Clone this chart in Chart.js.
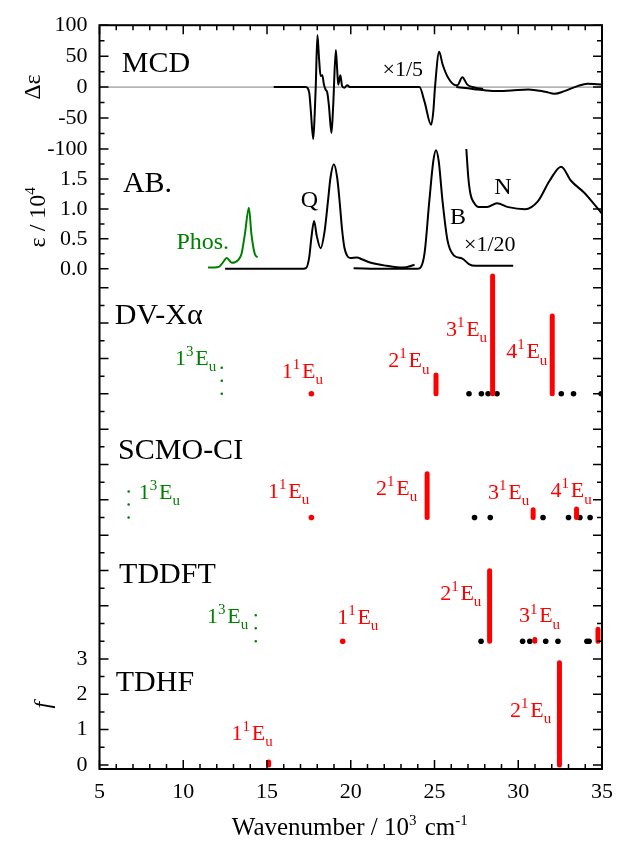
<!DOCTYPE html>
<html>
<head>
<meta charset="utf-8">
<script src="https://cdn.jsdelivr.net/npm/chart.js@4.4.1/dist/chart.umd.min.js"></script>
<style>
  html, body { margin: 0; padding: 0; background: #fff; }
</style>
</head>
<body>
<canvas id="chart" width="623" height="844"></canvas>
<script>
// wavenumbers in 10^3 cm-1

// MCD (delta epsilon), main trace and the x1/5 trace
const mcdX = [15.4, 17.32, 17.52, 17.61, 17.76, 17.85, 17.91, 18.01, 18.11, 18.20, 18.30, 18.40, 18.50, 18.60, 18.70, 18.85, 18.95, 19.11, 19.19, 19.25, 19.38, 19.48, 19.62, 19.78, 19.97, 24.1, 24.4, 24.8, 24.93, 25.03, 25.28, 25.48, 25.86, 26.27, 26.37, 26.66, 26.96, 27.45, 27.9];
const mcdY = [0, 0, -9, -36, -84, -42, 0, 84, 45, 18, 19, 4, -4, -9, -31, -74, -31, 60, 28, 4, 19, 2, -1, 3, 0, 0, -23, -61, -39, 0, 57, 37, 13, 3, 3, 16, 4, -1, -3];
const mcd5X = [26.3, 27.0, 27.6, 28.6, 29.6, 30.6, 31.6, 32.17, 32.76, 33.54, 34.13, 34.92, 35];
const mcd5Y = [0, -2, -4, -6.5, -5.3, -3.7, -7.5, -10.8, -6.5, 1.6, 5.4, 4.3, 4];

// absorption (epsilon / 10^4)
const absQX = [12.5, 17.0, 17.32, 17.52, 17.65, 17.81, 17.97, 18.20, 18.44, 18.64, 18.79, 18.99, 19.19, 19.35, 19.48, 19.62, 19.78, 19.97, 20.37, 20.66, 21.15, 22.14, 23.12, 23.81];
const absQY = [0, 0, 0.01, 0.19, 0.52, 0.80, 0.55, 0.345, 0.63, 1.13, 1.52, 1.745, 1.52, 1.08, 0.66, 0.355, 0.22, 0.18, 0.19, 0.16, 0.105, 0.05, 0.02, 0.067];
const absBX = [20.17, 22.0, 24.0, 24.4, 24.69, 24.93, 25.09, 25.25, 25.48, 25.78, 26.17, 26.66, 27.05, 27.45, 29.7];
const absBY = [0.01, 0.0, 0.0, 0.25, 1.13, 1.8, 1.98, 1.8, 1.13, 0.47, 0.22, 0.17, 0.08, 0.05, 0.05];
const absNX = [26.90, 27.02, 27.15, 27.35, 27.64, 28.14, 28.73, 29.41, 30.40, 31.18, 31.87, 32.56, 33.15, 33.94, 34.53, 35.0];
const absNY = [2.0, 1.52, 1.245, 1.105, 1.03, 1.03, 1.095, 1.03, 0.995, 1.13, 1.47, 1.705, 1.47, 1.27, 1.08, 0.92];
const phosX = [11.48, 12.1, 12.35, 12.6, 12.9, 13.29, 13.48, 13.68, 13.92, 14.07, 14.27, 14.43];
const phosY = [0.02, 0.03, 0.1, 0.18, 0.10, 0.15, 0.25, 0.58, 1.02, 0.58, 0.25, 0.19];

// calculated transitions: singlet Eu (x, f), other states (x), triplet Eu (x)
const dvSingX = [17.65, 25.09, 28.47, 32.03];
const dvSingF = [0, 0.53, 3.33, 2.2];
const dvOtherX = [27.06, 27.8, 28.2, 28.73, 32.57, 33.3, 34.95];
const dvTripX = [12.3];

const scmoSingX = [17.65, 24.56, 30.89, 33.48];
const scmoSingF = [0, 1.24, 0.22, 0.24];
const scmoOtherX = [27.39, 28.33, 31.48, 33.0, 33.68, 34.29];
const scmoTripX = [6.74];

const tddftSingX = [19.52, 28.29, 30.99, 34.76];
const tddftSingF = [0, 1.99, 0.05, 0.34];
const tddftOtherX = [27.78, 30.26, 30.69, 31.64, 32.37, 34.1, 34.23];
const tddftTripX = [14.33];

const tdhfSingX = [15.1, 32.46];
const tdhfSingF = [0.08, 2.89];

// text: [text, x, y, axis, colour, size]
const notes = [
    ['MCD', 6.33, 24.7, 'yMCD', 'k', 30],
    ['×1/5', 21.9, 17.7, 'yMCD', 'k', 22],
    ['AB.', 6.40, 1.29, 'yAB', 'k', 30],
    ['Phos.', 9.59, 0.33, 'yAB', 'g', 24],
    ['Q', 17.02, 1.03, 'yAB', 'k', 24],
    ['B', 25.93, 0.745, 'yAB', 'k', 24],
    ['×1/20', 26.76, 0.30, 'yAB', 'k', 22],
    ['N', 28.57, 1.255, 'yAB', 'k', 24],
    ['DV-Xα', 5.91, 8.97, 'yCalc', 'k', 30],
    ['1^3E_u', 9.51, 7.82, 'yCalc', 'g', 22],
    ['1^1E_u', 15.88, 7.46, 'yCalc', 'r', 22],
    ['2^1E_u', 22.24, 7.75, 'yCalc', 'r', 22],
    ['3^1E_u', 25.68, 8.64, 'yCalc', 'r', 22],
    ['4^1E_u', 29.28, 8.01, 'yCalc', 'r', 22],
    ['SCMO-CI', 6.11, 5.16, 'yCalc', 'k', 30],
    ['1^3E_u', 7.35, 4.03, 'yCalc', 'g', 22],
    ['1^1E_u', 15.06, 4.06, 'yCalc', 'r', 22],
    ['2^1E_u', 21.51, 4.15, 'yCalc', 'r', 22],
    ['3^1E_u', 28.20, 4.03, 'yCalc', 'r', 22],
    ['4^1E_u', 31.93, 4.08, 'yCalc', 'r', 22],
    ['TDDFT', 6.17, 1.65, 'yCalc', 'k', 30],
    ['1^3E_u', 11.42, 0.52, 'yCalc', 'g', 22],
    ['1^1E_u', 19.19, 0.50, 'yCalc', 'r', 22],
    ['2^1E_u', 25.34, 1.18, 'yCalc', 'r', 22],
    ['3^1E_u', 30.04, 0.53, 'yCalc', 'r', 22],
    ['TDHF', 5.97, 2.10, 'yF', 'k', 30],
    ['1^1E_u', 12.88, 0.71, 'yF', 'r', 22],
    ['2^1E_u', 29.51, 1.36, 'yF', 'r', 22]
];

const COLORS = { k: '#000000', r: '#ff0000', g: '#008000' };
const FAMILY = "'Liberation Serif', 'Times New Roman', serif";
const PX_PER_F = 35.4;      // pixel height of one f unit in the lower panels
const TRIP_MARK = 0.75;     // height of the dotted triplet marker, f units
const STICK_CLIP = { left: 0, right: 0, top: 16, bottom: 5 };

function pts(xs, ys) { return xs.map((x, i) => ({ x: x, y: ys[i] })); }

function sticks(xs, fs, base) {
    const out = [];
    xs.forEach((x, i) => {
        if (fs[i] > 0) { out.push({ x: x, y: base }, { x: x, y: base + fs[i] }, { x: x, y: null }); }
    });
    return out;
}

function zeroDots(xs, fs, base) {
    return xs.filter((x, i) => fs[i] === 0).map(x => ({ x: x, y: base }));
}

function dots(xs, base) { return xs.map(x => ({ x: x, y: base })); }

function tripMarks(xs, base) {
    const out = [];
    xs.forEach(x => { out.push({ x: x, y: base }, { x: x, y: base + TRIP_MARK }, { x: x, y: null }); });
    return out;
}

function curve(data, axis, color) {
    return { data: data, yAxisID: axis, borderColor: color, borderWidth: 2, pointRadius: 0,
             cubicInterpolationMode: 'monotone', fill: false };
}
function bars(data, axis) {
    return { data: data, yAxisID: axis, borderColor: COLORS.r, borderWidth: 5, pointRadius: 0,
             borderCapStyle: 'round', spanGaps: false, clip: STICK_CLIP };
}
function pointSet(data, axis, color, r) {
    return { data: data, yAxisID: axis, showLine: false, pointRadius: r, pointBorderWidth: 0,
             pointBackgroundColor: color, pointBorderColor: color, clip: STICK_CLIP };
}
function trip(data, axis) {
    return { data: data, yAxisID: axis, borderColor: COLORS.g, borderWidth: 2.6, pointRadius: 0,
             borderCapStyle: 'round', borderDash: [0, 13], spanGaps: false, clip: STICK_CLIP };
}

const panels = [
    { axis: 'yCalc', base: 7, sx: dvSingX, sf: dvSingF, ox: dvOtherX, tx: dvTripX },
    { axis: 'yCalc', base: 3.5, sx: scmoSingX, sf: scmoSingF, ox: scmoOtherX, tx: scmoTripX },
    { axis: 'yCalc', base: 0, sx: tddftSingX, sf: tddftSingF, ox: tddftOtherX, tx: tddftTripX },
    { axis: 'yF', base: 0, sx: tdhfSingX, sf: tdhfSingF, ox: [], tx: [] }
];

const datasets = [
    Object.assign(curve([{ x: 5, y: 0 }, { x: 35, y: 0 }], 'yMCD', '#808080'), { borderWidth: 1, order: 10 }),
    curve(pts(mcdX, mcdY), 'yMCD', '#000'),
    curve(pts(mcd5X, mcd5Y), 'yMCD', '#000'),
    curve(pts(absQX, absQY), 'yAB', '#000'),
    curve(pts(absBX, absBY), 'yAB', '#000'),
    curve(pts(absNX, absNY), 'yAB', '#000'),
    curve(pts(phosX, phosY), 'yAB', COLORS.g)
];
panels.forEach(p => {
    datasets.push(bars(sticks(p.sx, p.sf, p.base), p.axis));
    datasets.push(pointSet(zeroDots(p.sx, p.sf, p.base), p.axis, COLORS.r, 2.8));
    datasets.push(pointSet(dots(p.ox, p.base), p.axis, COLORS.k, 2.8));
    datasets.push(trip(tripMarks(p.tx, p.base), p.axis));
});

function stepList(lo, hi, step) {
    const out = [];
    const n = Math.round((hi - lo) / step);
    for (let i = 0; i <= n; i++) { out.push(+(lo + i * step).toFixed(4)); }
    return out;
}

function yAxis(weight, stackWeight, min, max, values, isMajor, label) {
    return {
        type: 'linear', position: 'left', stack: 'left', weight: weight, stackWeight: stackWeight,
        min: min, max: max,
        grid: { display: false, drawTicks: false }, border: { display: false },
        afterBuildTicks: s => { s.ticks = values.map(v => ({ value: v, mj: isMajor(v) })); },
        afterFit: s => { s.width = 99.5; },
        ticks: {
            autoSkip: false, padding: 12, font: { size: 22, family: FAMILY }, color: '#000',
            callback: v => (isMajor(v) && label ? label(v) : '')
        }
    };
}

const isInt = v => Math.abs(v - Math.round(v)) < 1e-6;

// rich text: ^x or ^{..} superscript, _x or _{..} subscript
function richParts(s) {
    const out = [];
    let i = 0;
    while (i < s.length) {
        const c = s[i];
        if (c === '^' || c === '_') {
            let t;
            if (s[i + 1] === '{') { const j = s.indexOf('}', i); t = s.slice(i + 2, j); i = j + 1; }
            else { t = s[i + 1]; i += 2; }
            out.push({ t: t, k: c === '^' ? 'sup' : 'sub' });
        } else {
            let j = i;
            while (j < s.length && s[j] !== '^' && s[j] !== '_') { j++; }
            out.push({ t: s.slice(i, j), k: 'n' });
            i = j;
        }
    }
    return out;
}

function drawRich(ctx, s, x, y, size, color, align, style, ratio) {
    const parts = richParts(s);
    const sm = size * (ratio || 0.68);
    const font = k => (style ? style + ' ' : '') + (k === 'n' ? size : sm) + 'px ' + FAMILY;
    let w = 0;
    parts.forEach(p => {
        ctx.font = font(p.k);
        p.w = ctx.measureText(p.t).width + (p.k === 'sup' ? size * 0.08 : 0);
        w += p.w;
    });
    let cx = align === 'center' ? x - w / 2 : x;
    ctx.fillStyle = color;
    ctx.textAlign = 'left';
    ctx.textBaseline = 'alphabetic';
    parts.forEach(p => {
        ctx.font = font(p.k);
        const dy = p.k === 'sup' ? -size * 0.4 : (p.k === 'sub' ? size * 0.3 : 0);
        ctx.fillText(p.t, cx, y + dy);
        cx += p.w;
    });
}

const framePlugin = {
    id: 'frame',
    afterDatasetsDraw(chart) {
        const ctx = chart.ctx;
        const a = chart.chartArea;
        ctx.save();
        ctx.strokeStyle = '#000';
        ctx.lineWidth = 1.5;
        ctx.beginPath();
        const xs = chart.scales.x;
        xs.ticks.forEach(t => {
            const px = xs.getPixelForValue(t.value);
            const len = t.mj ? 9 : 5;
            ctx.moveTo(px, a.bottom); ctx.lineTo(px, a.bottom - len);
            ctx.moveTo(px, a.top); ctx.lineTo(px, a.top + len);
        });
        ['yMCD', 'yAB', 'yCalc', 'yF'].forEach(id => {
            const s = chart.scales[id];
            s.ticks.forEach(t => {
                const py = s.getPixelForValue(t.value);
                const len = t.mj ? 9 : 5;
                ctx.moveTo(a.left, py); ctx.lineTo(a.left + len, py);
                ctx.moveTo(a.right, py); ctx.lineTo(a.right - len, py);
            });
        });
        ctx.stroke();
        ctx.lineWidth = 2;
        ctx.strokeRect(a.left, a.top, a.right - a.left, a.bottom - a.top);
        ctx.restore();
    },
    afterDraw(chart) {
        const ctx = chart.ctx;
        const xs = chart.scales.x;
        ctx.save();
        notes.forEach(n => {
            const s = chart.scales[n[3]];
            drawRich(ctx, n[0], xs.getPixelForValue(n[1]), s.getPixelForValue(n[2]), n[5], COLORS[n[4]], 'left');
        });
        const titles = [['yMCD', 'Δε', 40, ''], ['yAB', 'ε / 10^4', 45, ''], ['yF', 'f', 50, 'italic']];
        titles.forEach(t => {
            const s = chart.scales[t[0]];
            ctx.save();
            ctx.translate(t[2], (s.top + s.bottom) / 2);
            ctx.rotate(-Math.PI / 2);
            drawRich(ctx, t[1], 0, 0, 24, '#000', 'center', t[3], 0.62);
            ctx.restore();
        });
        const a = chart.chartArea;
        drawRich(ctx, 'Wavenumber / 10^3 cm^{-1}', (a.left + a.right) / 2, 835, 25, '#000', 'center', '', 0.6);
        ctx.restore();
    }
};

new Chart(document.getElementById('chart'), {
    type: 'line',
    data: { datasets: datasets },
    options: {
        responsive: false,
        animation: false,
        devicePixelRatio: 1,
        events: [],
        layout: { padding: { top: 24, right: 14.5, left: 0, bottom: 0 } },
        plugins: { legend: { display: false }, tooltip: { enabled: false } },
        scales: {
            x: {
                type: 'linear', position: 'bottom', min: 5, max: 35,
                grid: { display: false, drawTicks: false }, border: { display: false },
                afterBuildTicks: s => { s.ticks = stepList(5, 35, 1).map(v => ({ value: v, mj: v % 5 === 0 })); },
                afterFit: s => { s.height = 75; },
                ticks: {
                    autoSkip: false, maxRotation: 0, padding: 10,
                    font: { size: 22, family: FAMILY }, color: '#000',
                    callback: v => (v % 5 === 0 ? String(v) : '')
                }
            },
            yMCD: yAxis(4, 124, -100, 100, stepList(-100, 100, 25), v => v % 50 === 0, v => String(v)),
            yAB: yAxis(3, 135, -0.25, 2.0, stepList(0, 1.75, 0.25), v => isInt(v * 2), v => v.toFixed(1)),
            yCalc: yAxis(2, 358, 0, 358 / PX_PER_F, stepList(0.5, 10, 0.5), isInt, null),
            yF: yAxis(1, 128, 3.5 - 128 / PX_PER_F, 3.5, stepList(0, 3.5, 0.5), isInt, v => String(v))
        }
    },
    plugins: [framePlugin]
});
</script>
</body>
</html>
